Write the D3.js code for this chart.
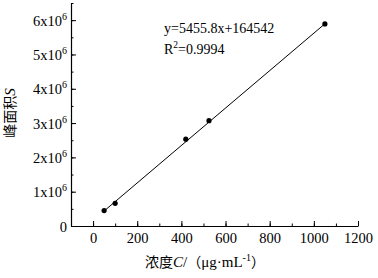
<!DOCTYPE html>
<html>
<head>
<meta charset="utf-8">
<script src="https://cdn.jsdelivr.net/npm/d3@7"></script>
<style>
  body { margin: 0; background: #fff; }
  svg text { font-family: "Liberation Serif", "Times New Roman", serif; fill: #000; }
</style>
</head>
<body>
<svg id="chart" width="378" height="278"></svg>
<script>
// calibration data
const conc = [50, 100, 420, 525, 1050];
const area = [0.45e6, 0.66e6, 2.53e6, 3.07e6, 5.89e6];
const slope = 5455.8, intercept = 164542;
const xTicks = [0, 200, 400, 600, 800, 1000, 1200];
const yTicks = [0, 1e6, 2e6, 3e6, 4e6, 5e6, 6e6];
const eqText = 'y=5455.8x+164542';

const serif = '"Liberation Serif", serif';
const cjk = '"Noto Sans CJK SC"';

const svg = d3.select('#chart');
const x = d3.scaleLinear().domain([-100, 1200]).range([71, 358]);
const y = d3.scaleLinear().domain([0, 6.5e6]).range([226, 3]);

// minor ticks
svg.append('g').attr('transform', 'translate(0,226)')
  .call(d3.axisBottom(x).tickValues(d3.range(-100, 1201, 100)).tickFormat('').tickSize(-2.5).tickSizeOuter(0))
  .call(g => g.select('.domain').remove());
svg.append('g').attr('transform', 'translate(71,0)')
  .call(d3.axisLeft(y).tickValues(d3.range(0, 6.5e6 + 1, 0.5e6)).tickFormat('').tickSize(-2.5).tickSizeOuter(0))
  .call(g => g.select('.domain').remove());

// main axes
const xAxis = svg.append('g').attr('transform', 'translate(0,226)')
  .call(d3.axisBottom(x).tickValues(xTicks).tickFormat(d3.format('d')).tickSize(-5).tickSizeOuter(0).tickPadding(7));
xAxis.selectAll('text').style('font-family', serif).style('font-size', '14.5px');

const yAxis = svg.append('g').attr('transform', 'translate(71,0)')
  .call(d3.axisLeft(y).tickValues(yTicks).tickSize(-5).tickSizeOuter(0).tickFormat(''));
yAxis.selectAll('.tick text').remove();
yAxis.selectAll('.tick').append('text')
  .attr('x', -4).attr('dy', '0.35em').attr('text-anchor', 'end')
  .style('font-family', serif).style('font-size', '14.5px')
  .each(function(d) {
    const t = d3.select(this);
    if (d === 0) { t.text('0'); return; }
    t.append('tspan').text((d / 1e6) + 'x10');
    t.append('tspan').attr('dy', -6).style('font-size', '10px').text('6');
  });
svg.selectAll('.domain').attr('stroke-width', 1.2);

// fitted line
svg.append('line')
  .attr('x1', x(conc[0])).attr('y1', y(slope * conc[0] + intercept))
  .attr('x2', x(conc[conc.length - 1])).attr('y2', y(slope * conc[conc.length - 1] + intercept))
  .attr('stroke', '#000').attr('stroke-width', 1);

svg.append('g').selectAll('circle')
  .data(conc.map((c, i) => [c, area[i]])).enter().append('circle')
  .attr('cx', d => x(d[0])).attr('cy', d => y(d[1])).attr('r', 2.6).attr('fill', '#000');

// equation
svg.append('text').attr('x', 164).attr('y', 33).style('font-size', '14px').text(eqText);
const r2 = svg.append('text').attr('x', 164).attr('y', 54).style('font-size', '14px');
r2.append('tspan').text('R');
r2.append('tspan').attr('dy', -6).style('font-size', '9.5px').text('2');
r2.append('tspan').attr('dy', 6).text('=0.9994');

// axis titles
const xl = svg.append('text').attr('x', 205).attr('y', 267).attr('text-anchor', 'middle').style('font-size', '15px');
xl.append('tspan').style('font-family', cjk).style('font-size', '14px').text('浓度');
xl.append('tspan').style('font-style', 'italic').text('C');
xl.append('tspan').text('/');
xl.append('tspan').style('font-family', cjk).style('font-size', '14px').text('（');
xl.append('tspan').text('μg·mL');
xl.append('tspan').attr('dy', -6).style('font-size', '10px').text('-1');
xl.append('tspan').attr('dy', 6).style('font-family', cjk).style('font-size', '14px').text('）');

const yl = svg.append('text').attr('transform', 'translate(15,113) rotate(-90)')
  .attr('text-anchor', 'middle').style('font-size', '15px');
yl.append('tspan').style('font-family', cjk).style('font-size', '14px').text('峰面积');
yl.append('tspan').style('font-style', 'italic').text('S');
</script>
</body>
</html>
